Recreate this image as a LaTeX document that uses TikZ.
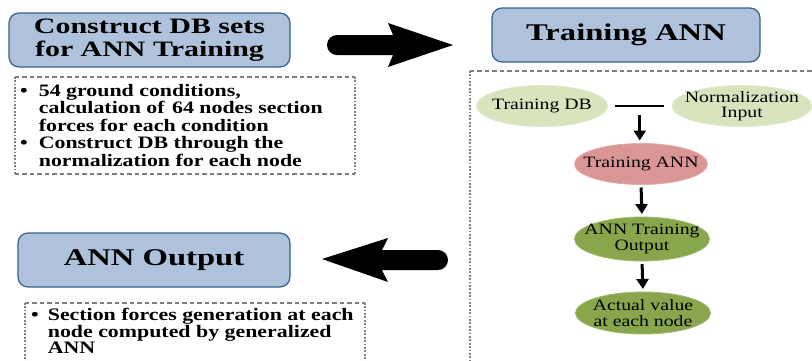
\documentclass[tikz,border=0pt]{standalone}
\usepackage{fontspec}
\setmainfont{Liberation Serif}[FakeStretch=1.25]
\newfontfamily\titlefont{Liberation Serif}[FakeStretch=1.36]
\usetikzlibrary{shapes.geometric,arrows.meta,calc}
\definecolor{bluefill}{HTML}{AFC2DC}
\definecolor{blueline}{HTML}{3A5F8C}
\definecolor{lgreen}{HTML}{D7E4BD}
\definecolor{dgreen}{HTML}{88A64C}
\definecolor{lred}{HTML}{D99694}
\definecolor{dashgray}{HTML}{808080}
\begin{document}
\begin{tikzpicture}[x=1pt,y=-1pt,
  titlebox/.style={rectangle, rounded corners=10pt, draw=blueline, fill=bluefill,
    line width=1.2pt, inner sep=0pt, align=center,
    font={\titlefont\bfseries\fontsize{24pt}{24pt}\selectfont}},
  ghost/.style={rectangle, inner sep=0pt},
  hdash/.style={draw=dashgray, line width=1.6pt, dash pattern=on 4.5pt off 3pt},
  vdot/.style={draw=dashgray, line width=1.6pt, dash pattern=on 1.8pt off 1.6pt},
  bullettext/.style={inner sep=0pt, anchor=base west,
    font={\bfseries\fontsize{17.5pt}{17.5pt}\selectfont}},
  oval/.style={ellipse, inner xsep=-40pt, inner ysep=-15pt, outer sep=0pt, align=center, line width=0.8pt,
    font={\fontsize{15.8pt}{15.5pt}\selectfont}},
  flow/.style={line width=3pt, -{Triangle[width=12pt,length=10pt]}, shorten >=3pt, shorten <=3pt},
  blockarrow/.style={fill=black, draw=none}
]
\useasboundingbox (0,0) rectangle (812,360);
\clip (0,0) rectangle (812,360);

% title boxes
\node[titlebox, minimum width=281pt, minimum height=54pt,
  font={\titlefont\bfseries\fontsize{22pt}{23.5pt}\selectfont}] (t1) at (149.5,40)
  {Construct DB sets\\for ANN Training};
\node[titlebox, minimum width=268pt, minimum height=54pt] (t2) at (626,35) {Training ANN};
\node[titlebox, minimum width=272pt, minimum height=54pt] (t3) at (154,260) {ANN Output};

% dashed frames
\node[ghost, minimum width=340pt, minimum height=97pt] (d1) at (185,125.5) {};
\node[ghost, minimum width=360pt, minimum height=309pt] (d2) at (650,225.5) {};
\node[ghost, minimum width=340pt, minimum height=77pt] (d3) at (195,341.5) {};
\foreach \d in {d1,d2,d3}{
  \draw[hdash] (\d.north west) -- (\d.north east);
  \draw[hdash] (\d.south west) -- (\d.south east);
  \draw[vdot] (\d.north west) -- (\d.south west);
  \draw[vdot] (\d.north east) -- (\d.south east);
}

% bullet texts
\node[bullettext] (b1) at (20,96) {%
  \begin{tabular}[t]{@{}l@{\hspace{11pt}}l@{}}
  \textbullet & 54 ground conditions,\\
   & calculation of\hspace{2pt} 64 nodes section\\
   & forces for each condition\\
  \textbullet & Construct DB through the\\
   & normalization for each node
  \end{tabular}};
\node[bullettext, font={\bfseries\fontsize{17.5pt}{16.8pt}\selectfont}] (b3) at (31,320) {%
  \begin{tabular}[t]{@{}l@{\hspace{9pt}}l@{}}
  \textbullet & Section forces generation at each\\
   & node computed by generalized\\
   & ANN
  \end{tabular}};

% block arrows
\coordinate (ra) at (337,45);
\fill[blockarrow] (337,35) -- (393,35) -- (388,23) -- (453,45) -- (388,67) -- (393,55) -- (337,55) -- cycle;
\fill[blockarrow] (ra) circle[radius=10pt];
\coordinate (la) at (438,260);
\fill[blockarrow] (322,259) -- (388,238) -- (382,250) -- (438,250) -- (438,270) -- (382,270) -- (388,282) -- cycle;
\fill[blockarrow] (la) circle[radius=10pt];

% ellipses
\node[oval, fill=lgreen, draw=lgreen!80!white, minimum width=131pt, minimum height=41pt] (e1) at (542,106) {Training DB};
\node[oval, fill=lgreen, draw=lgreen!80!white, minimum width=140pt, minimum height=41pt] (e2) at (742,106) {Normalization\\Input};
\node[oval, fill=lred, draw=lred!80!white, minimum width=133pt, minimum height=41pt] (e3) at (641,164) {Training ANN};
\node[oval, fill=dgreen, draw=dgreen!80!white, minimum width=135pt, minimum height=44pt] (e4) at (642,239) {ANN Training\\Output};
\node[oval, fill=dgreen, draw=dgreen!80!white, minimum width=135pt, minimum height=42pt] (e5) at (643,313) {Actual value\\at each node};

% connectors
\draw[line width=2pt, shorten <=7pt, shorten >=8pt] (e1.east) -- (e2.west);
\coordinate (j) at ($(e1.east)!0.5!(e2.west)+(0,9)$);
\draw[flow, shorten <=0pt] (j) -- (j |- e3.north);
\draw[flow] (e3.south) -- (e4.north);
\draw[flow] (e4.south) -- (e5.north);
\end{tikzpicture}
\end{document}
